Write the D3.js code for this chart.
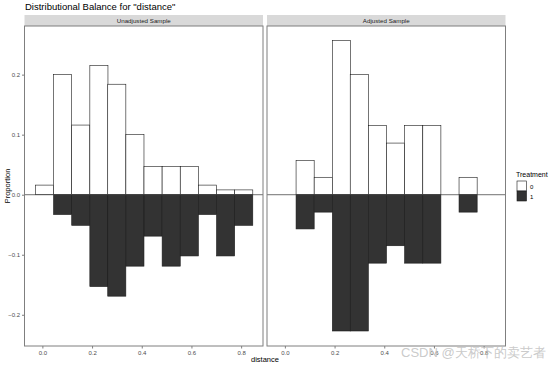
<!DOCTYPE html>
<html><head><meta charset="utf-8">
<script src="https://cdn.jsdelivr.net/npm/d3@7"></script>
<style>body{margin:0;background:#fff}svg{display:block}text{font-family:"Liberation Sans",Arial,sans-serif}</style>
</head><body>
<svg id="c" width="554" height="367"></svg>
<script>
// ---- data ----
const binStarts = [-0.028, 0.045, 0.118, 0.191, 0.263, 0.336, 0.409, 0.482, 0.555, 0.628, 0.701, 0.774];
const binWidth = 0.0729;
const panels = ["Unadjusted Sample", "Adjusted Sample"];
const unadjControl = [0.016, 0.200, 0.116, 0.215, 0.184, 0.100, 0.047, 0.047, 0.047, 0.016, 0.008, 0.008];
const unadjTreated = [0, 0.033, 0.051, 0.153, 0.169, 0.119, 0.069, 0.119, 0.102, 0.033, 0.102, 0.051];
const adjControl   = [0, 0.057, 0.029, 0.257, 0.200, 0.115, 0.086, 0.115, 0.115, 0, 0.029, 0];
const adjTreated   = [0, 0.057, 0.029, 0.227, 0.227, 0.114, 0.085, 0.114, 0.114, 0, 0.029, 0];
const xTicks = [0.0, 0.2, 0.4, 0.6, 0.8];
const yTicks = [-0.2, -0.1, 0.0, 0.1, 0.2];
const treatLevels = ["0", "1"];

(function () {
const svg = d3.select("#c");
const pTop = 26, pBottom = 346;
const panelLeft = [24.5, 267];
const panelW = 238.5;
const y = d3.scaleLinear().domain([-0.252, 0.281]).range([pBottom, pTop]);
const dataSets = [[unadjControl, unadjTreated], [adjControl, adjTreated]];
const fillCol = {"0": "#ffffff", "1": "#333333"};

svg.append("text").attr("x", 25).attr("y", 10).attr("font-size", 9.5).attr("fill", "#000")
  .text('Distributional Balance for "distance"');

panels.forEach((name, p) => {
  const x0 = panelLeft[p];
  const x = d3.scaleLinear().domain([-0.072, 0.888]).range([x0, x0 + panelW]);
  svg.append("rect").attr("x", x0).attr("y", 15).attr("width", panelW).attr("height", 11).attr("fill", "#d9d9d9");
  svg.append("text").attr("x", x0 + panelW / 2).attr("y", 22.8).attr("text-anchor", "middle")
    .attr("font-size", 6.2).attr("fill", "#1a1a1a").text(name);
  const g = svg.append("g");
  const [ctrl, trt] = dataSets[p];
  const bars = [];
  binStarts.forEach((b, i) => {
    if (ctrl[i] > 0) bars.push({x: b, v0: 0, v1: ctrl[i], t: "0"});
    if (trt[i] > 0) bars.push({x: b, v0: -trt[i], v1: 0, t: "1"});
  });
  g.selectAll("rect.bar").data(bars).join("rect").attr("class", "bar")
    .attr("x", d => x(d.x)).attr("width", d => x(d.x + binWidth) - x(d.x))
    .attr("y", d => y(d.v1)).attr("height", d => y(d.v0) - y(d.v1))
    .attr("fill", d => fillCol[d.t]).attr("stroke", "#1a1a1a").attr("stroke-width", 0.6);
  g.append("line").attr("x1", x0).attr("x2", x0 + panelW).attr("y1", y(0)).attr("y2", y(0))
    .attr("stroke", "#4d4d4d").attr("stroke-width", 0.8);
  svg.append("rect").attr("x", x0).attr("y", pTop).attr("width", panelW).attr("height", pBottom - pTop)
    .attr("fill", "none").attr("stroke", "#7f7f7f").attr("stroke-width", 1);
  const xa = svg.append("g").attr("transform", `translate(0,${pBottom})`)
    .call(d3.axisBottom(x).tickValues(xTicks).tickFormat(d3.format(".1f")).tickSize(2.5).tickPadding(2));
  xa.select(".domain").remove();
  xa.selectAll("line").attr("stroke", "#7f7f7f");
  xa.selectAll("text").attr("font-size", 6).attr("fill", "#4d4d4d").attr("font-family", "Liberation Sans, Arial, sans-serif");
});

const ya = svg.append("g").attr("transform", `translate(${panelLeft[0]},0)`)
  .call(d3.axisLeft(y).tickValues(yTicks).tickFormat(d3.format(".1f")).tickSize(2.5).tickPadding(2));
ya.select(".domain").remove();
ya.selectAll("line").attr("stroke", "#7f7f7f");
ya.selectAll("text").attr("font-size", 6).attr("fill", "#4d4d4d").attr("font-family", "Liberation Sans, Arial, sans-serif");

svg.append("text").attr("x", 265).attr("y", 361.5).attr("text-anchor", "middle").attr("font-size", 7.5).text("distance");
svg.append("text").attr("transform", "translate(9.5,186) rotate(-90)").attr("text-anchor", "middle")
  .attr("font-size", 7.5).text("Proportion");

svg.append("text").attr("x", 516).attr("y", 177).attr("font-size", 7).text("Treatment");
treatLevels.forEach((t, i) => {
  svg.append("rect").attr("x", 517).attr("y", 181 + i * 10).attr("width", 9.5).attr("height", 10)
    .attr("fill", fillCol[t]).attr("stroke", "#1a1a1a").attr("stroke-width", 0.6);
  svg.append("text").attr("x", 530).attr("y", 188.5 + i * 10).attr("font-size", 6).text(t);
});

svg.append("text").attr("x", 401).attr("y", 357).attr("font-size", 13)
  .attr("textLength", 145).attr("lengthAdjust", "spacingAndGlyphs")
  .attr("font-family", "Noto Sans CJK SC, sans-serif").attr("fill", "#c4c4c4").attr("fill-opacity", 0.9)
  .text("CSDN @天桥下的卖艺者");
})();
</script>
</body></html>
